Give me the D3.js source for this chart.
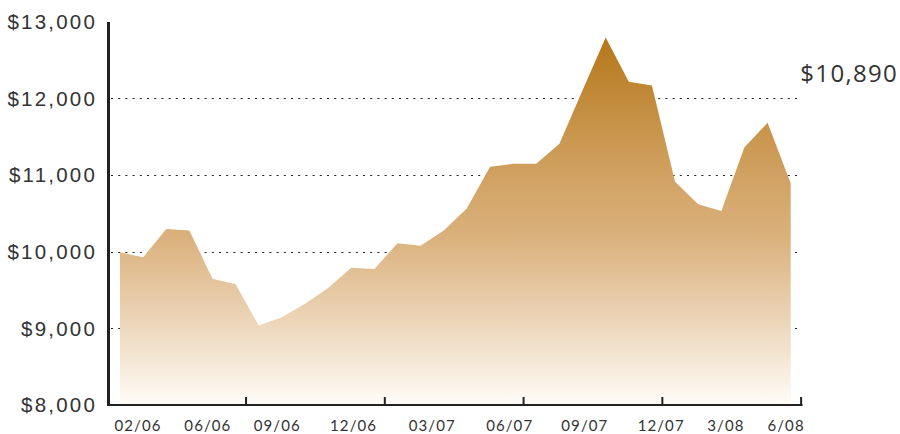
<!DOCTYPE html>
<html>
<head>
<meta charset="utf-8">
<script src="https://cdn.jsdelivr.net/npm/d3@7"></script>
<style>
  html, body { margin: 0; padding: 0; background: #fff; }
  svg { display: block; }
</style>
</head>
<body>
<svg id="chart" width="900" height="434"></svg>
<script>
// ---- data ----
const months = ["01/06","02/06","03/06","04/06","05/06","06/06","07/06","08/06","09/06","10/06","11/06","12/06",
                "01/07","02/07","03/07","04/07","05/07","06/07","07/07","08/07","09/07","10/07","11/07","12/07",
                "01/08","02/08","03/08","04/08","05/08","06/08"];
const values = [9990, 9925, 10295, 10275, 9645, 9573, 9035, 9145, 9320, 9525, 9790, 9773,
                10110, 10077, 10275, 10565, 11107, 11145, 11145, 11405, 12105, 12790, 12215, 12165,
                10910, 10617, 10530, 11360, 11680, 10890];
const yTicks = [8000, 9000, 10000, 11000, 12000, 13000];
const gridValues = [9000, 10000, 11000, 12000];
const xTickLabels = ["02/06","06/06","09/06","12/06","03/07","06/07","09/07","12/07","3/08","6/08"];
const xTickLabelAt = [0.78, 3.8, 6.8, 10.1, 13.5, 16.85, 20.1, 23.4, 26.2, 28.8]; // month index
const xTickMarksAt = [5.45, 11.45, 17.45, 23.45, 29.45]; // month index
const lastLabel = "$10,890";

// ---- layout ----
const svg = d3.select("#chart");
const x = d3.scaleLinear().domain([0, months.length - 1]).range([120, 790.7]);
const y = d3.scaleLinear().domain([8000, 13000]).range([405, 21.5]);
const fmt = v => "$" + d3.format(",")(v);

// gradient
const defs = svg.append("defs");
const grad = defs.append("linearGradient")
  .attr("id", "goldGrad")
  .attr("gradientUnits", "userSpaceOnUse")
  .attr("x1", 0).attr("x2", 0)
  .attr("y1", y(d3.max(values))).attr("y2", y(8000));
grad.append("stop").attr("offset", "0%").attr("stop-color", "#b5771a");
grad.append("stop").attr("offset", "30%").attr("stop-color", "#cc9a55");
grad.append("stop").attr("offset", "55%").attr("stop-color", "#dbb27e");
grad.append("stop").attr("offset", "80%").attr("stop-color", "#eedac0");
grad.append("stop").attr("offset", "100%").attr("stop-color", "#fffcf8");

// gridlines
svg.append("g").selectAll("line").data(gridValues).join("line")
  .attr("x1", 111).attr("x2", 801)
  .attr("y1", d => Math.round(y(d)) + 0.5).attr("y2", d => Math.round(y(d)) + 0.5)
  .attr("stroke", "#222").attr("stroke-width", 1.2)
  .attr("stroke-dasharray", "2,5.2");

// area
const area = d3.area()
  .x((d, i) => x(i))
  .y0(y(8000) - 1)
  .y1(d => y(d));
svg.append("path").datum(values)
  .attr("d", area)
  .attr("fill", "url(#goldGrad)");

// y labels
svg.append("g").selectAll("text").data(yTicks).join("text")
  .attr("x", 97).attr("y", d => y(d))
  .attr("dy", "0.36em")
  .attr("text-anchor", "end")
  .attr("font-family", "Liberation Sans, Arial, sans-serif")
  .attr("font-size", 20.5)
  .attr("letter-spacing", "2.2px")
  .attr("fill", "#333")
  .text(fmt);

// axes lines
svg.append("line")
  .attr("x1", 108.5).attr("x2", 108.5).attr("y1", 22).attr("y2", 406)
  .attr("stroke", "#222").attr("stroke-width", 3);
svg.append("line")
  .attr("x1", 107).attr("x2", 802.5).attr("y1", 405).attr("y2", 405)
  .attr("stroke", "#222").attr("stroke-width", 2);

// x tick marks
svg.append("g").selectAll("line").data(xTickMarksAt).join("line")
  .attr("x1", d => x(d)).attr("x2", d => x(d))
  .attr("y1", 397).attr("y2", 405)
  .attr("stroke", "#222").attr("stroke-width", 2);

// x labels
svg.append("g").selectAll("text").data(xTickLabels).join("text")
  .attr("x", (d, i) => x(xTickLabelAt[i]))
  .attr("y", 431)
  .attr("text-anchor", "middle")
  .attr("font-family", "Lato, Open Sans, sans-serif")
  .attr("font-size", 15)
  .attr("letter-spacing", "1.1px")
  .attr("fill", "#333")
  .text(d => d);

// last value label
svg.append("text")
  .attr("x", 898).attr("y", 82)
  .attr("text-anchor", "end")
  .attr("font-family", "Open Sans, sans-serif")
  .attr("font-size", 24)
  .attr("letter-spacing", "1.3px")
  .attr("fill", "#333")
  .text(lastLabel);
</script>
</body>
</html>
